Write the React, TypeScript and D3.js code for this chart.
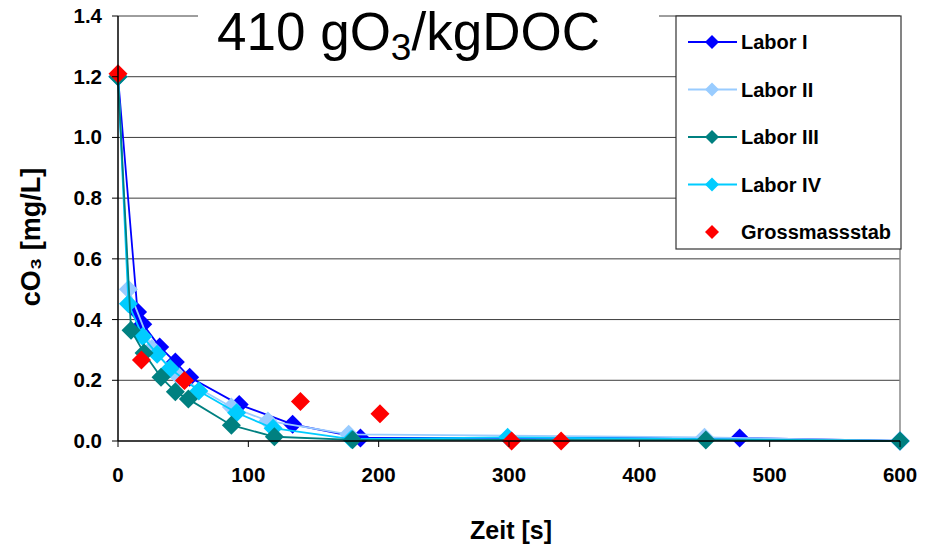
import React from "react";
import * as d3 from "d3";

// Ozone decay at 410 gO3/kgDOC: time [s] vs. cO3 [mg/L]
const laborITime = [0, 15, 19, 32, 44, 55, 93, 134, 186, 477, 600];
const laborIConc = [1.2, 0.425, 0.385, 0.31, 0.26, 0.21, 0.12, 0.055, 0.01, 0.01, 0.0];

const laborIITime = [0, 8, 26, 47, 87, 115, 177, 450, 600];
const laborIIConc = [1.2, 0.5, 0.305, 0.21, 0.112, 0.066, 0.022, 0.012, 0.0];

const laborIIITime = [0, 10, 20, 33, 44, 54, 87, 120, 180, 451, 600];
const laborIIIConc = [1.2, 0.365, 0.29, 0.21, 0.162, 0.138, 0.052, 0.014, 0.004, 0.003, 0.0];

const laborIVTime = [0, 8, 19, 30, 40, 62, 91, 119, 179, 299, 600];
const laborIVConc = [1.2, 0.452, 0.344, 0.286, 0.239, 0.165, 0.093, 0.042, 0.006, 0.012, 0.0];

const grossTime = [0, 18, 51, 140, 201, 302, 340];
const grossConc = [1.21, 0.267, 0.199, 0.13, 0.09, 0.0, 0.0];

const xTicks = [0, 100, 200, 300, 400, 500, 600];
const yTicks = [0, 0.2, 0.4, 0.6, 0.8, 1.0, 1.2, 1.4];

type Series = { name: string; color: string; t: number[]; c: number[]; line: boolean };

const series: Series[] = [
  { name: "Labor I", color: "#0000FF", t: laborITime, c: laborIConc, line: true },
  { name: "Labor II", color: "#99CCFF", t: laborIITime, c: laborIIConc, line: true },
  { name: "Labor III", color: "#008080", t: laborIIITime, c: laborIIIConc, line: true },
  { name: "Labor IV", color: "#00CCFF", t: laborIVTime, c: laborIVConc, line: true },
  { name: "Grossmassstab", color: "#FF0000", t: grossTime, c: grossConc, line: false },
];
// drawing order (last on top)
const drawOrder = [0, 1, 3, 2, 4];

const FONT = "'Liberation Sans', Arial, Helvetica, sans-serif";

const diamond = (cx: number, cy: number, r: number) =>
  `M${cx},${cy - r}L${cx + r},${cy}L${cx},${cy + r}L${cx - r},${cy}Z`;

export default function App() {
  const width = 930;
  const height = 550;
  const left = 118;
  const right = 900;
  const top = 16;
  const bottom = 441;

  const x = d3.scaleLinear().domain([0, 600]).range([left, right]);
  const y = d3.scaleLinear().domain([0, 1.4]).range([bottom, top]);

  const lineGen = d3
    .line<[number, number]>()
    .x((d) => x(d[0]))
    .y((d) => y(d[1]));

  const legendX = 676;
  const legendY = 16;
  const legendW = 225;
  const legendH = 233;

  return (
    <svg
      width={width}
      height={height}
      style={{ position: "absolute", left: 0, top: 0, background: "#fff" }}
      fontFamily={FONT}
    >
      <rect x={0} y={0} width={width} height={height} fill="#fff" />

      {/* gridlines */}
      {yTicks
        .filter((v) => v > 0)
        .map((v) => (
          <line key={v} x1={left} x2={right} y1={y(v)} y2={y(v)} stroke="#3c3c3c" strokeWidth={1} />
        ))}
      <line x1={right} x2={right} y1={top} y2={bottom} stroke="#8a8a8a" strokeWidth={1.5} />

      {/* series */}
      {drawOrder.map((i) => {
        const s = series[i];
        const pts: [number, number][] = s.t.map((t, k) => [t, s.c[k]]);
        return (
          <g key={s.name}>
            {s.line && (
              <path d={lineGen(pts) || ""} fill="none" stroke={s.color} strokeWidth={1.8} />
            )}
            {pts.map((p, k) => (
              <path key={k} d={diamond(x(p[0]), y(p[1]), 9.5)} fill={s.color} />
            ))}
          </g>
        );
      })}

      {/* axes */}
      <line x1={left} x2={left} y1={top} y2={bottom} stroke="#000" strokeWidth={1.5} />
      <line x1={left} x2={right} y1={bottom} y2={bottom} stroke="#000" strokeWidth={1.5} />
      {yTicks.map((v) => (
        <g key={v}>
          <line x1={left - 6} x2={left} y1={y(v)} y2={y(v)} stroke="#000" strokeWidth={1} />
          <text
            x={102}
            y={y(v) + 7}
            textAnchor="end"
            fontSize={20.5}
            fontWeight="bold"
            fill="#000"
          >
            {v.toFixed(1)}
          </text>
        </g>
      ))}
      {xTicks.map((v) => (
        <g key={v}>
          <line x1={x(v)} x2={x(v)} y1={bottom} y2={bottom + 6} stroke="#000" strokeWidth={1} />
          <text x={x(v)} y={482} textAnchor="middle" fontSize={20.5} fontWeight="bold" fill="#000">
            {v}
          </text>
        </g>
      ))}

      {/* axis titles */}
      <text x={511} y={539} textAnchor="middle" fontSize={25} fontWeight="bold" fill="#000">
        Zeit [s]
      </text>
      <text
        transform={`translate(40,237) rotate(-90)`}
        textAnchor="middle"
        fontSize={27}
        fontWeight="bold"
        fill="#000"
      >
        cO₃ [mg/L]
      </text>

      {/* title */}
      <rect x={198} y={0} width={461} height={72} fill="#fff" />
      <text x={217} y={50} fontSize={53} fill="#000">
        410 gO
        <tspan fontSize={37} dy={10}>
          3
        </tspan>
        <tspan dy={-10}>/kgDOC</tspan>
      </text>

      {/* legend */}
      <rect
        x={legendX}
        y={legendY}
        width={legendW}
        height={legendH}
        fill="#fff"
        stroke="#333"
        strokeWidth={1.2}
      />
      {series.map((s, i) => {
        const ry = 42 + i * 47.5;
        return (
          <g key={s.name}>
            {s.line && <line x1={688} x2={737} y1={ry} y2={ry} stroke={s.color} strokeWidth={2} />}
            <path d={diamond(712, ry, 7)} fill={s.color} />
            <text x={741} y={ry + 7} fontSize={20} fontWeight="bold" fill="#000">
              {s.name}
            </text>
          </g>
        );
      })}
    </svg>
  );
}
